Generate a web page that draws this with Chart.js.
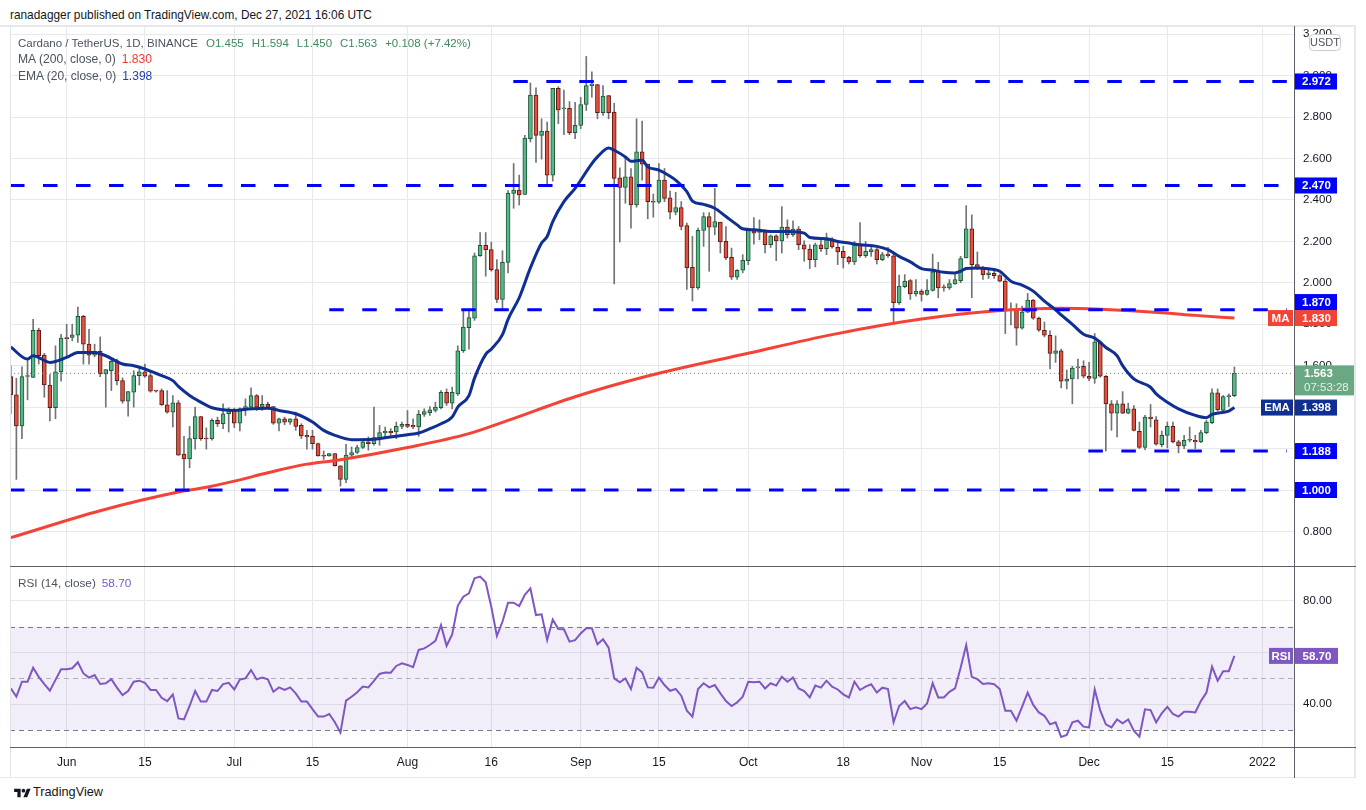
<!DOCTYPE html>
<html>
<head>
<meta charset="utf-8">
<script src="https://cdn.jsdelivr.net/npm/chart.js@4.4.1/dist/chart.umd.min.js"></script>
<style>
html,body{margin:0;padding:0;background:#fff;}
body{width:1366px;height:810px;position:relative;overflow:hidden;font-family:"Liberation Sans",Arial,sans-serif;color:#131722;}
canvas{position:absolute;left:0;}
.t{position:absolute;white-space:nowrap;line-height:16px;}
.ln{position:absolute;}
.g{color:#4c525e;}
.gr{color:#3f8a5c;}
</style>
</head>
<body>
<div class="t" id="hdr" style="left:10px;top:7px;font-size:12px;">ranadagger published on TradingView.com, Dec 27, 2021 16:06 UTC</div>

<canvas id="cMain" width="1366" height="541" style="top:26px;width:1366px;height:541px;"></canvas>
<canvas id="cRsi" width="1366" height="211" style="top:567px;width:1366px;height:211px;"></canvas>

<div class="ln" style="left:0;top:25px;width:1356px;height:2px;background:#e6e8ed;"></div>
<div class="ln" style="left:10px;top:26px;width:1px;height:752px;background:#e2e4ea;"></div>
<div class="ln" style="left:1354px;top:26px;width:2px;height:752px;background:#e6e8ed;"></div>
<div class="ln" style="left:0;top:777px;width:1356px;height:1px;background:#e6e8ed;"></div>
<div class="ln" style="left:1294px;top:26px;width:1px;height:752px;background:#5d606b;"></div>
<div class="ln" style="left:10px;top:566px;width:1346px;height:1px;background:#5d606b;"></div>
<div class="ln" style="left:10px;top:747px;width:1346px;height:1px;background:#5d606b;"></div>

<div class="t g" id="leg1" style="left:18px;top:35px;font-size:12.5px;">Cardano / TetherUS, 1D, BINANCE<span class="gr" style="margin-left:8px">O1.455</span><span class="gr" style="margin-left:8px">H1.594</span><span class="gr" style="margin-left:8px">L1.450</span><span class="gr" style="margin-left:8px">C1.563</span><span class="gr" style="margin-left:8px">+0.108 (+7.42%)</span></div>
<div class="t g" id="leg2" style="left:18px;top:51px;font-size:12.5px;">MA (200, close, 0)<span style="margin-left:6px;color:#f23c30">1.830</span></div>
<div class="t g" id="leg3" style="left:18px;top:68px;font-size:12.5px;">EMA (20, close, 0)<span style="margin-left:6px;color:#1f3fae">1.398</span></div>
<div class="t g" id="leg4" style="left:18px;top:575px;font-size:12.5px;">RSI (14, close)<span style="margin-left:6px;color:#7e57c2">58.70</span></div>

<div class="t" style="left:14px;top:785px;">
<svg width="17" height="13" viewBox="0 0 36 28" style="vertical-align:middle"><path d="M14 22H7V11H0V4h14v18zM28 22h-8l7.5-18h8L28 22z" fill="#131722"/><circle cx="20" cy="8" r="4" fill="#131722"/></svg>
</div>
<div class="t" id="logo" style="left:33px;top:784px;font-size:13px;color:#131722;">TradingView</div>

<script>
// ---------------- DATA ----------------
const opens = [1.547,1.459,1.309,1.548,1.544,1.771,1.651,1.507,1.397,1.570,
1.733,1.736,1.747,1.838,1.704,1.651,1.670,1.560,1.576,1.624,
1.528,1.429,1.472,1.552,1.571,1.552,1.480,1.480,1.411,1.376,
1.421,1.173,1.150,1.248,1.355,1.248,1.248,1.336,1.320,1.368,
1.384,1.323,1.392,1.400,1.456,1.400,1.413,1.403,1.323,1.344,
1.328,1.344,1.312,1.264,1.259,1.224,1.165,1.165,1.176,1.117,
1.051,1.168,1.181,1.205,1.232,1.224,1.253,1.277,1.283,1.280,
1.307,1.317,1.312,1.304,1.365,1.373,1.384,1.397,1.472,1.419,
1.464,1.672,1.784,1.829,2.131,2.181,2.160,2.064,1.920,2.099,
2.432,2.448,2.427,2.696,2.907,2.712,2.733,2.520,2.939,2.840,
2.843,2.725,2.760,2.861,2.952,2.957,2.821,2.904,2.824,2.507,
2.461,2.512,2.376,2.632,2.573,2.395,2.389,2.496,2.411,2.341,
2.363,2.277,2.075,1.976,2.253,2.320,2.269,2.293,2.200,2.123,
2.027,2.061,2.107,2.251,2.243,2.248,2.184,2.227,2.203,2.269,
2.232,2.259,2.184,2.163,2.112,2.184,2.165,2.211,2.171,2.152,
2.123,2.101,2.184,2.131,2.149,2.160,2.112,2.139,2.131,1.904,
1.981,2.011,1.947,1.960,1.944,1.963,2.056,1.979,1.976,1.995,
2.011,2.120,2.261,2.088,2.072,2.040,2.046,2.035,2.008,1.867,
1.872,1.781,1.859,1.917,1.829,1.771,1.747,1.659,1.672,1.525,
1.536,1.589,1.597,1.549,1.539,1.715,1.549,1.416,1.371,1.416,
1.371,1.392,1.283,1.205,1.352,1.339,1.219,1.264,1.307,1.232,
1.213,1.240,1.240,1.232,1.277,1.325,1.469,1.384,1.451,1.455];

const highs = [1.600,1.539,1.595,1.632,1.824,1.781,1.660,1.557,1.696,1.752,
1.800,1.800,1.883,1.843,1.776,1.704,1.739,1.581,1.640,1.632,
1.541,1.475,1.576,1.589,1.608,1.576,1.480,1.488,1.480,1.456,
1.432,1.259,1.307,1.400,1.355,1.300,1.344,1.352,1.416,1.397,
1.395,1.397,1.440,1.493,1.461,1.456,1.424,1.403,1.347,1.352,
1.344,1.376,1.320,1.288,1.288,1.227,1.189,1.176,1.176,1.117,
1.221,1.208,1.216,1.240,1.256,1.400,1.312,1.304,1.296,1.328,
1.328,1.384,1.344,1.384,1.392,1.403,1.424,1.480,1.488,1.496,
1.696,1.872,1.864,2.144,2.243,2.243,2.197,2.112,2.155,2.445,
2.576,2.520,2.712,2.965,2.941,2.792,2.776,2.939,2.947,2.931,
2.875,2.872,2.896,3.093,3.019,2.957,2.952,2.904,2.867,2.555,
2.608,2.552,2.792,2.781,2.573,2.429,2.576,2.552,2.443,2.437,
2.392,2.288,2.224,2.264,2.339,2.339,2.456,2.293,2.272,2.168,
2.064,2.136,2.264,2.315,2.304,2.256,2.232,2.232,2.368,2.304,
2.299,2.272,2.203,2.184,2.192,2.219,2.240,2.219,2.192,2.176,
2.128,2.200,2.291,2.200,2.171,2.168,2.147,2.171,2.144,2.037,
2.040,2.016,2.016,1.968,2.016,2.139,2.099,1.990,2.016,2.040,
2.128,2.373,2.328,2.149,2.080,2.072,2.069,2.040,2.020,1.904,
1.899,1.888,1.949,1.920,1.835,1.811,1.768,1.744,1.680,1.579,
1.597,1.632,1.624,1.616,1.755,1.720,1.552,1.432,1.432,1.475,
1.419,1.408,1.328,1.360,1.413,1.355,1.285,1.328,1.328,1.240,
1.264,1.304,1.264,1.288,1.336,1.488,1.488,1.456,1.464,1.594];

const lows = [1.368,1.051,1.248,1.435,1.544,1.608,1.448,1.333,1.344,1.525,
1.648,1.720,1.712,1.608,1.608,1.643,1.547,1.400,1.480,1.507,
1.419,1.357,1.400,1.507,1.544,1.472,1.472,1.408,1.371,1.304,
1.168,1.003,1.107,1.197,1.240,1.197,1.240,1.307,1.296,1.280,
1.301,1.285,1.360,1.387,1.384,1.384,1.397,1.317,1.285,1.315,
1.317,1.288,1.248,1.197,1.197,1.163,1.147,1.163,1.115,1.019,
1.035,1.152,1.176,1.200,1.192,1.216,1.216,1.256,1.256,1.248,
1.296,1.301,1.296,1.259,1.355,1.360,1.376,1.392,1.408,1.392,
1.456,1.664,1.680,1.819,2.128,2.032,2.056,1.904,1.867,2.048,
2.360,2.376,2.427,2.680,2.581,2.597,2.464,2.491,2.768,2.715,
2.715,2.696,2.744,2.832,2.896,2.792,2.808,2.792,1.995,2.197,
2.384,2.264,2.365,2.496,2.309,2.317,2.384,2.392,2.309,2.328,
2.256,1.968,1.912,1.968,2.176,2.056,2.232,2.144,2.112,2.016,
2.016,2.048,2.088,2.187,2.208,2.144,2.171,2.107,2.144,2.216,
2.224,2.160,2.104,2.069,2.077,2.152,2.136,2.168,2.088,2.072,
2.091,2.088,2.123,2.123,2.128,2.091,2.107,2.123,1.803,1.896,
1.976,1.920,1.936,1.912,1.941,1.960,1.928,1.960,1.968,1.992,
2.000,2.120,1.928,2.064,2.016,2.021,2.021,2.005,1.755,1.797,
1.699,1.776,1.856,1.824,1.765,1.739,1.584,1.616,1.493,1.488,
1.416,1.536,1.541,1.528,1.515,1.544,1.189,1.288,1.256,1.368,
1.368,1.285,1.200,1.195,1.304,1.216,1.208,1.203,1.227,1.179,
1.200,1.232,1.200,1.229,1.272,1.320,1.381,1.381,1.403,1.450];

const closes = [1.459,1.309,1.547,1.551,1.771,1.648,1.507,1.397,1.570,1.733,
1.731,1.749,1.838,1.704,1.651,1.670,1.560,1.581,1.621,1.528,
1.429,1.475,1.552,1.571,1.549,1.477,1.477,1.411,1.376,1.421,
1.168,1.150,1.248,1.355,1.248,1.246,1.336,1.320,1.368,1.384,
1.323,1.392,1.403,1.456,1.400,1.413,1.400,1.323,1.344,1.328,
1.344,1.307,1.261,1.256,1.224,1.165,1.163,1.176,1.117,1.051,
1.168,1.181,1.205,1.232,1.224,1.253,1.277,1.283,1.277,1.307,
1.317,1.307,1.304,1.365,1.379,1.387,1.400,1.472,1.419,1.472,
1.672,1.787,1.832,2.131,2.181,2.160,2.064,1.920,2.099,2.432,
2.448,2.424,2.699,2.907,2.712,2.733,2.520,2.939,2.835,2.843,
2.725,2.760,2.861,2.952,2.960,2.821,2.901,2.821,2.504,2.461,
2.512,2.376,2.632,2.573,2.392,2.389,2.496,2.408,2.341,2.363,
2.272,2.072,1.976,2.253,2.320,2.269,2.296,2.197,2.120,2.027,
2.061,2.109,2.261,2.240,2.245,2.184,2.227,2.203,2.269,2.232,
2.259,2.184,2.163,2.112,2.184,2.165,2.208,2.173,2.149,2.120,
2.101,2.184,2.131,2.152,2.160,2.112,2.136,2.131,1.904,1.984,
2.008,1.947,1.960,1.944,1.965,2.053,1.976,1.976,1.997,2.016,
2.117,2.261,2.088,2.072,2.040,2.048,2.035,2.008,1.864,1.872,
1.781,1.859,1.917,1.829,1.771,1.747,1.659,1.672,1.525,1.536,
1.589,1.595,1.549,1.539,1.715,1.549,1.416,1.371,1.416,1.371,
1.392,1.288,1.205,1.352,1.344,1.221,1.264,1.307,1.232,1.213,
1.240,1.243,1.232,1.277,1.328,1.469,1.387,1.451,1.455,1.563];

const rsiValues = [46.1,42.9,48.7,48.7,54.1,50.6,47.8,45.2,49.4,53.5,
53.5,53.9,56.2,51.9,50.3,51.3,47.8,48.1,49.7,46.4,
43.5,45.1,48.7,49.1,48.3,45.5,45.5,42.5,41.2,43.8,
34.5,34.1,39.3,45.1,41.0,41.0,45.5,45.1,47.8,48.3,
45.7,49.6,50.0,53.2,49.6,50.3,49.6,44.8,46.5,45.5,
46.5,44.2,41.0,41.0,38.1,35.2,35.2,36.2,33.0,29.0,
41.4,42.9,44.6,46.8,46.5,49.0,51.7,52.3,52.2,54.8,
55.8,55.2,54.3,61.0,61.6,62.9,64.5,70.6,62.6,67.0,
78.1,81.6,82.9,88.7,89.4,87.2,77.7,66.4,71.9,79.3,
79.3,78.0,82.3,84.8,74.5,74.8,64.8,72.8,69.1,69.0,
64.2,64.8,67.4,69.4,69.4,63.2,65.1,61.9,50.0,48.5,
50.0,45.9,54.1,52.3,46.5,46.4,50.3,47.4,45.2,45.9,
43.3,37.5,35.2,45.9,48.1,46.5,47.4,44.2,41.2,39.3,
40.7,42.9,48.7,48.5,48.7,46.1,48.1,47.2,50.6,48.7,
50.3,46.1,45.1,42.6,47.2,46.4,49.1,46.8,45.7,43.8,
42.6,48.7,45.5,46.8,47.7,44.5,46.4,45.9,33.0,39.3,
41.2,38.1,38.8,38.1,40.3,48.1,42.6,42.6,44.8,46.1,
54.1,62.9,50.6,49.7,47.8,48.1,47.7,45.9,37.5,37.5,
33.6,39.0,44.5,39.7,36.8,35.5,32.2,33.0,27.3,28.1,
33.0,33.6,31.3,31.0,45.7,37.5,32.2,31.0,34.1,32.6,
34.1,29.7,27.4,38.0,37.7,33.0,36.5,39.0,36.2,35.2,
37.1,37.1,36.8,41.2,44.5,54.5,49.1,52.8,52.8,58.7];

const emaIdx = [0,3,4,7,10,12,15,17,20,22,24,27,29,30,32,34,36,38,40,43,46,48,51,54,56,58,61,65,68,71,73,75,77,79,
80,82,83,85,86,88,89,91,93,95,96,97,99,101,104,105,107,108,110,111,113,114,116,118,
119,121,122,124,126,128,130,131,133,136,139,142,143,146,148,150,152,155,157,159,161,163,165,167,169,170,171,173,176,177,
179,181,183,185,187,188,190,192,194,196,198,199,201,204,205,207,209,212,214,215,218,219];
const emaValues = [1.690,1.632,1.648,1.616,1.640,1.664,1.664,1.648,1.608,1.600,1.584,1.552,1.528,1.500,1.456,1.424,1.397,1.387,1.384,1.392,1.395,1.384,1.368,1.328,1.288,1.264,1.243,1.245,1.256,1.267,1.275,1.296,1.320,1.352,
1.400,1.456,1.540,1.655,1.680,1.750,1.824,1.928,2.072,2.192,2.224,2.296,2.392,2.456,2.576,2.608,2.651,2.640,2.608,2.587,2.592,2.560,2.544,2.515,
2.496,2.440,2.395,2.379,2.360,2.320,2.280,2.261,2.256,2.248,2.248,2.240,2.219,2.213,2.200,2.192,2.184,2.176,2.160,2.128,2.101,2.069,2.061,2.051,2.048,2.056,2.069,2.072,2.064,2.056,
2.008,1.989,1.960,1.912,1.870,1.845,1.800,1.752,1.733,1.688,1.648,1.600,1.536,1.496,1.464,1.424,1.392,1.360,1.349,1.365,1.381,1.398];

const maIdx = [0,16,30,34,40,46,52,59,71,82,89,101,114,132,147,163,176,188,195,206,212,219];
const maValues = [0.770,0.900,0.990,1.008,1.043,1.083,1.120,1.146,1.205,1.272,1.336,1.450,1.550,1.660,1.750,1.825,1.864,1.877,1.872,1.856,1.843,1.830];

// horizontal support / resistance levels
const levels = [2.972, 2.470, 1.870, 1.188, 1.000];
const levelStart = [89.94, -0.14, 57.0, 192.86, -0.14];
const levelEnd = 228.4;

// x axis ticks (day index) and labels
const tickIdx = [10,24,40,54,71,86,102,116,132,149,163,177,193,207,224];
const tickLabels = ['Jun','15','Jul','15','Aug','16','Sep','15','Oct','18','Nov','15','Dec','15','2022'];
const priceTicks = [0.8,1.0,1.2,1.4,1.6,1.8,2.0,2.2,2.4,2.6,2.8,3.0,3.2];
const rsiTicks = [40,60,80];
const rsiBands = [70,50,30];
const countdown = '07:53:28';

// ---------------- LAYOUT CONSTANTS ----------------
const X_MIN = -0.142, X_MAX = 229.67;
const P_MIN = 0.6283, P_MAX = 3.2399;
const R_MIN = 23.04, R_MAX = 93.11;
const GRID = '#e7e9ee';
const UP = '#53b987', UP_B = '#225437', DN = '#e2503f', DN_B = '#5b1a13', WICK = '#737375';
const BLUE = '#0000ff', RED = '#f44336', NAVY = '#0f2f92', PURPLE = '#7e57c2', GBOX = '#6aa883';
const FONT = '"Liberation Sans", Arial, sans-serif';

Chart.defaults.font.family = FONT;
Chart.defaults.color = '#131722';

const N = closes.length;
const up = closes.map((c, i) => c >= opens[i]);

function xScale(showTicks) {
  return {
    type: 'linear', min: X_MIN, max: X_MAX, offset: false,
    grid: { color: GRID, offset: false, drawTicks: false, lineWidth: 1 },
    border: { display: false },
    ticks: { display: showTicks, autoSkip: false, maxRotation: 0, padding: 7,
             font: { size: 12 }, color: '#131722',
             callback: (v, i) => tickLabels[i] },
    afterBuildTicks: s => { s.ticks = tickIdx.map(v => ({ value: v })); },
    afterFit: s => { s.height = showTicks ? 30 : 0; s.paddingLeft = 0; s.paddingRight = 0; }
  };
}

// ---------------- PRICE PANE ----------------
const priceBoxes = {
  id: 'priceBoxes',
  afterDraw(chart) {
    const { ctx, chartArea: a, scales: { y } } = chart;
    const X = a.right;
    const items = [];
    levels.forEach(v => items.push({ v, color: BLUE, text: v.toFixed(3), up: 8, down: 8 }));
    const maLast = maValues[maValues.length - 1], emaLast = emaValues[emaValues.length - 1];
    items.push({ v: maLast, color: RED, text: maLast.toFixed(3), tag: 'MA', tagW: 25, up: 8, down: 8 });
    items.push({ v: emaLast, color: NAVY, text: emaLast.toFixed(3), tag: 'EMA', tagW: 32, up: 8, down: 8 });
    items.push({ v: closes[N - 1], color: GBOX, text: closes[N - 1].toFixed(3), sub: countdown, up: 8, down: 22, w: 60 });
    items.forEach(it => it.py = y.getPixelForValue(it.v));
    items.sort((p, q) => q.py - p.py);
    let limit = Infinity;
    items.forEach(it => { const c = Math.min(it.py, limit - it.down); it.cy = c; limit = c - it.up; });
    ctx.save();
    ctx.textBaseline = 'middle';
    items.forEach(it => {
      const w = it.w || 43;
      ctx.fillStyle = it.color;
      ctx.fillRect(X, it.cy - it.up, w, it.up + it.down);
      ctx.font = 'bold 11.5px ' + FONT;
      if (it.tag) {
        ctx.fillRect(X - it.tagW - 1, it.cy - it.up, it.tagW, it.up + it.down);
        ctx.fillStyle = '#fff'; ctx.textAlign = 'center';
        ctx.fillText(it.tag, X - 1 - it.tagW / 2, it.cy + 0.5);
      }
      ctx.fillStyle = '#fff';
      if (it.sub) {
        ctx.textAlign = 'left';
        ctx.fillText(it.text, X + 10, it.cy + 0.5);
        ctx.font = '11.5px ' + FONT;
        ctx.fillStyle = 'rgba(255,255,255,0.82)';
        ctx.fillText(it.sub, X + 10, it.cy + 14.5);
      } else {
        ctx.textAlign = 'center';
        ctx.fillText(it.text, X + w / 2 + 1, it.cy + 0.5);
      }
    });
    // currency badge
    const bx = X + 15, by = 8, bw = 31, bh = 16;
    ctx.beginPath();
    ctx.roundRect(bx + 0.5, by + 0.5, bw, bh, 4);
    ctx.fillStyle = '#fff'; ctx.fill();
    ctx.strokeStyle = '#c9ccd4'; ctx.lineWidth = 1; ctx.stroke();
    ctx.fillStyle = '#50535e'; ctx.font = '11px ' + FONT; ctx.textAlign = 'center';
    ctx.fillText('USDT', bx + bw / 2 + 0.5, by + bh / 2 + 1);
    ctx.restore();
  }
};

const levelSets = levels.map((v, k) => ({
  type: 'line', data: [{ x: levelStart[k], y: v }, { x: levelEnd, y: v }],
  borderColor: BLUE, borderWidth: 3, borderDash: [14.5, 18.5], pointRadius: 0, order: 0
}));

new Chart(document.getElementById('cMain'), {
  type: 'bar',
  data: {
    datasets: [
      ...levelSets,
      { type: 'line', data: emaIdx.map((d, k) => ({ x: d, y: emaValues[k] })), borderColor: NAVY, borderWidth: 3,
        pointRadius: 0, cubicInterpolationMode: 'monotone', order: 1 },
      { type: 'line', data: maIdx.map((d, k) => ({ x: d, y: maValues[k] })), borderColor: RED, borderWidth: 3,
        pointRadius: 0, cubicInterpolationMode: 'monotone', order: 1 },
      { type: 'line', data: [{ x: X_MIN, y: closes[N - 1] }, { x: X_MAX, y: closes[N - 1] }], borderColor: '#4f9a72',
        borderWidth: 1, borderDash: [1, 3], pointRadius: 0, order: 2 },
      { type: 'bar', data: closes.map((c, i) => ({ x: i, y: [opens[i], c] })), grouped: false, barThickness: 4,
        minBarLength: 1, borderWidth: 1, borderSkipped: false,
        backgroundColor: up.map(u => u ? UP : DN), borderColor: up.map(u => u ? UP_B : DN_B), order: 3 },
      { type: 'bar', data: closes.map((c, i) => ({ x: i, y: [lows[i], highs[i]] })), grouped: false, barThickness: 1,
        backgroundColor: WICK, borderWidth: 0, order: 4 }
    ]
  },
  options: {
    responsive: false, animation: false, devicePixelRatio: 1, events: [],
    layout: { padding: { left: 10, right: 0, top: 0, bottom: 0 } },
    plugins: { legend: { display: false }, tooltip: { enabled: false } },
    scales: {
      x: xScale(false),
      y: {
        position: 'right', min: P_MIN, max: P_MAX,
        grid: { color: GRID, drawTicks: false },
        border: { display: false },
        ticks: { padding: 9, font: { size: 11.5 }, color: '#131722', callback: v => Number(v).toFixed(3) },
        afterBuildTicks: s => { s.ticks = priceTicks.map(v => ({ value: v })); },
        afterFit: s => { s.width = 72; s.paddingTop = 0; s.paddingBottom = 0; }
      }
    }
  },
  plugins: [priceBoxes]
});

// ---------------- RSI PANE ----------------
const rsiDecor = {
  id: 'rsiDecor',
  beforeDatasetsDraw(chart) {
    const { ctx, chartArea: a, scales: { y } } = chart;
    const y1 = y.getPixelForValue(rsiBands[0]), y2 = y.getPixelForValue(rsiBands[2]);
    ctx.save();
    ctx.fillStyle = 'rgba(126,87,194,0.1)';
    ctx.fillRect(a.left, y1, a.right - a.left, y2 - y1);
    ctx.lineWidth = 1; ctx.setLineDash([5, 4]);
    rsiBands.forEach((b, k) => {
      const yy = Math.round(y.getPixelForValue(b)) + 0.5;
      ctx.strokeStyle = k === 1 ? '#aeb1ba' : '#787b86';
      ctx.beginPath(); ctx.moveTo(a.left, yy); ctx.lineTo(a.right, yy); ctx.stroke();
    });
    ctx.restore();
  },
  afterDraw(chart) {
    const { ctx, chartArea: a, scales: { y } } = chart;
    const X = a.right;
    const last = rsiValues[rsiValues.length - 1];
    const cy = y.getPixelForValue(last);
    ctx.save();
    ctx.fillStyle = PURPLE;
    ctx.fillRect(X + 1, cy - 8, 43, 16);
    ctx.fillRect(X - 25, cy - 8, 24, 16);
    ctx.fillStyle = '#fff'; ctx.textBaseline = 'middle'; ctx.textAlign = 'center';
    ctx.font = 'bold 11.5px ' + FONT;
    ctx.fillText(last.toFixed(2), X + 23, cy + 0.5);
    ctx.fillText('RSI', X - 13, cy + 0.5);
    ctx.restore();
  }
};

new Chart(document.getElementById('cRsi'), {
  type: 'line',
  data: {
    datasets: [{
      data: rsiValues.map((v, i) => ({ x: i, y: v })), borderColor: PURPLE, borderWidth: 2,
      pointRadius: 0, tension: 0
    }]
  },
  options: {
    responsive: false, animation: false, devicePixelRatio: 1, events: [],
    layout: { padding: { left: 10, right: 0, top: 0, bottom: 0 } },
    plugins: { legend: { display: false }, tooltip: { enabled: false } },
    scales: {
      x: xScale(true),
      y: {
        position: 'right', min: R_MIN, max: R_MAX,
        grid: { color: GRID, drawTicks: false },
        border: { display: false },
        ticks: { padding: 9, font: { size: 11.5 }, color: '#131722', callback: v => Number(v).toFixed(2) },
        afterBuildTicks: s => { s.ticks = rsiTicks.map(v => ({ value: v })); },
        afterFit: s => { s.width = 72; s.paddingTop = 0; s.paddingBottom = 0; }
      }
    }
  },
  plugins: [rsiDecor]
});

// fit text widths to the reference layout
function fit(id, w) {
  const el = document.getElementById(id);
  const cur = el.getBoundingClientRect().width;
  const fs = parseFloat(getComputedStyle(el).fontSize);
  if (cur > 0) el.style.fontSize = (fs * w / cur).toFixed(2) + 'px';
}
fit('hdr', 362); fit('leg1', 450); fit('leg2', 134); fit('leg3', 134); fit('leg4', 113); fit('logo', 70);
</script>
</body>
</html>
